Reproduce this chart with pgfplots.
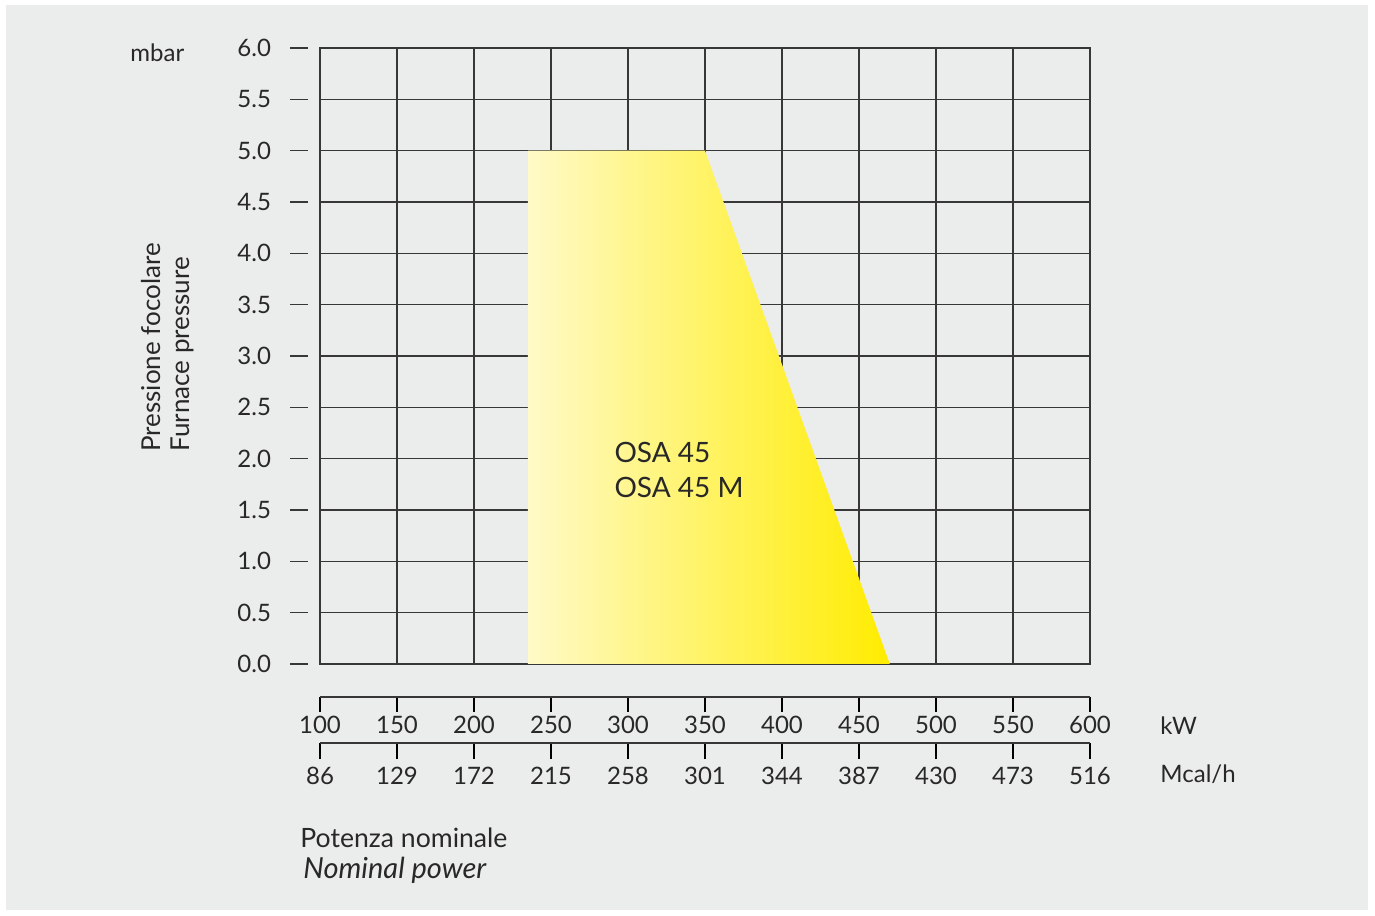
\documentclass[border=0pt]{standalone}
\usepackage{pgfplots}
\pgfplotsset{compat=1.18}
\usepackage{fontspec}
\setmainfont{Lato}
\definecolor{bggray}{RGB}{235,236,236}
\definecolor{txt}{RGB}{40,40,40}
\definecolor{gridc}{RGB}{55,55,55}
\definecolor{yl}{RGB}{255,250,200}
\definecolor{yr}{RGB}{255,236,0}
\begin{document}
\begin{tikzpicture}[x=1pt,y=1pt]
\fill[white] (0,0) rectangle (687.5,457.5);
\fill[bggray] (3,2.5) rectangle (684,455);
% main grid axis
\begin{axis}[
  at={(160pt,125.5pt)}, anchor=south west, scale only axis,
  width=385pt, height=308pt,
  xmin=100,xmax=600,ymin=0,ymax=6,
  xtick={100,150,...,600}, ytick={0,0.5,...,6},
  xticklabels={}, yticklabels={},
  major tick length=0pt,
  grid=major,
  grid style={gridc, line width=0.7pt},
  axis line style={gridc, line width=0.7pt},
  clip=false,
]
\addplot[draw=none, left color=yl, right color=yr, forget plot] coordinates {(235,0) (235,5) (350,5) (470,0)} \closedcycle;
\node[anchor=base west, font=\fontsize{14}{16}\selectfont, text=txt, inner sep=0pt] at (axis cs:291,1.958) {OSA 45};
\node[anchor=base west, font=\fontsize{14}{16}\selectfont, text=txt, inner sep=0pt] at (axis cs:291,1.617) {OSA 45 M};
\end{axis}
% y dashes and tick labels
\begin{axis}[
  at={(145pt,125.5pt)}, anchor=south west, scale only axis,
  width=9pt, height=308pt,
  xmin=0,xmax=1,ymin=0,ymax=6,
  xtick=\empty, ytick={0,0.5,...,6},
  ymajorgrids, grid style={gridc, line width=0.7pt},
  axis line style={draw=none},
  major tick length=0pt,
  yticklabel style={anchor=east, text=txt, font=\fontsize{12}{14}\selectfont,
    /pgf/number format/.cd, fixed, fixed zerofill, precision=1, assume math mode=true},
  yticklabel shift=6pt,
]
\end{axis}
% kW axis
\begin{axis}[
  at={(160pt,109pt)}, anchor=south west, scale only axis,
  width=385pt, height=10pt,
  xmin=100,xmax=600,ymin=0,ymax=1,
  axis x line*=bottom, axis y line=none,
  xtick={100,150,...,600},
  tick align=outside, major tick length=7.5pt,
  xtick style={black, line width=1.4pt},
  axis line style={gridc, line width=0.8pt, -},
  xticklabel shift=-1.5pt,
  xticklabel style={text=txt, font=\fontsize{12}{14}\selectfont,
    /pgf/number format/.cd, 1000 sep={}, assume math mode=true},
]
\end{axis}
% Mcal/h axis
\begin{axis}[
  at={(160pt,86pt)}, anchor=south west, scale only axis,
  width=385pt, height=10pt,
  xmin=100,xmax=600,ymin=0,ymax=1,
  axis x line*=bottom, axis y line=none,
  xtick={100,150,...,600},
  xticklabels={86,129,172,215,258,301,344,387,430,473,516},
  tick align=outside, major tick length=8pt,
  xtick style={black, line width=1.4pt},
  axis line style={gridc, line width=0.8pt, -},
  xticklabel shift=0.5pt,
  xticklabel style={text=txt, font=\fontsize{12}{14}\selectfont},
]
\end{axis}
\node[anchor=base west, inner sep=0pt, text=txt, font=\fontsize{12}{14}\selectfont] at (580,90) {kW};
\node[anchor=base west, inner sep=0pt, text=txt, font=\fontsize{12}{14}\selectfont] at (580,66) {Mcal/h};
\node[anchor=base west, inner sep=0pt, text=txt, font=\fontsize{12}{14}\selectfont] at (65,426.5) {mbar};
\node[anchor=base west, inner sep=0pt, text=txt, rotate=90, font=\fontsize{13}{15}\selectfont] at (80,231.5) {Pressione focolare};
\node[anchor=base west, inner sep=0pt, text=txt, rotate=90, font=\fontsize{13}{15}\selectfont] at (94.5,231.5) {Furnace pressure};
\node[anchor=base west, inner sep=0pt, text=txt, font=\fontsize{13.3}{15}\selectfont] at (150,33.5) {Potenza nominale};
\node[anchor=base west, inner sep=0pt, text=txt, font=\fontsize{14.5}{15}\selectfont\itshape] at (151.5,18) {Nominal power};
\end{tikzpicture}
\end{document}
